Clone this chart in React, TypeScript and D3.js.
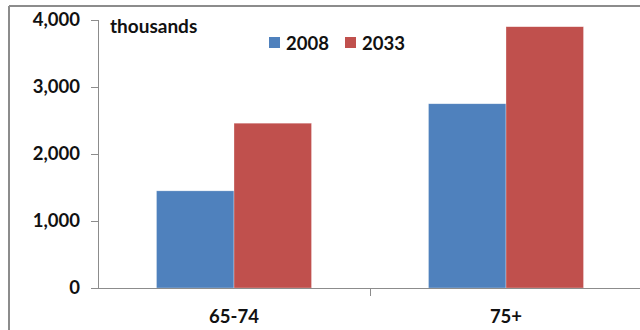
import React from "react";
import * as d3 from "d3";

const categories = ["65-74", "75+"];
const seriesNames = ["2008", "2033"];
const values2008 = [1450, 2750];
const values2033 = [2460, 3900];
const yTicks = [0, 1000, 2000, 3000, 4000];
const colors = ["#4F81BD", "#C0504D"];

const W = 640;
const H = 330;
const FONT = "Lato, 'Open Sans', sans-serif";

export default function App() {
  const x = d3.scaleBand<string>().domain(categories).range([98, 642]).paddingInner(0).paddingOuter(0);
  const y = d3.scaleLinear().domain([0, 4000]).range([288, 20]);
  const groupFrac = 0.57;
  const inner = d3
    .scaleBand<string>()
    .domain(seriesNames)
    .range([0, x.bandwidth() * groupFrac]);
  const offset = (x.bandwidth() * (1 - groupFrac)) / 2;
  const series = [values2008, values2033];
  const fmt = d3.format(",");

  return (
    <svg
      width={W}
      height={H}
      style={{ position: "absolute", left: 0, top: 0 }}
      fontFamily={FONT}
    >
      <rect x={0} y={0} width={W} height={H} fill="#fff" />
      {/* outer frame */}
      <line x1={9} y1={6} x2={W} y2={6} stroke="#8c8c8c" strokeWidth={2} />
      <line x1={9} y1={6} x2={9} y2={H} stroke="#8c8c8c" strokeWidth={2} />

      {/* bars */}
      {series.map((vals, si) =>
        categories.map((c, ci) => (
          <rect
            key={`${si}-${ci}`}
            x={(x(c) as number) + offset + (inner(seriesNames[si]) as number)}
            y={y(vals[ci])}
            width={inner.bandwidth()}
            height={y(0) - y(vals[ci])}
            fill={colors[si]}
            stroke="rgba(255,255,255,0.5)"
            strokeWidth={0.6}
          />
        ))
      )}

      {/* y axis */}
      <line x1={98.5} y1={y(4000)} x2={98.5} y2={y(0)} stroke="#8c8c8c" strokeWidth={1} />
      {yTicks.map((t) => (
        <g key={t}>
          <line x1={91} x2={98.5} y1={Math.round(y(t)) + 0.5} y2={Math.round(y(t)) + 0.5} stroke="#8c8c8c" />
          <text
            x={80}
            y={y(t)}
            dy="0.35em"
            textAnchor="end"
            fontSize={18.5}
            fontWeight={700}
            fill="#111"
          >
            {fmt(t)}
          </text>
        </g>
      ))}

      {/* x axis */}
      <line x1={91} x2={W} y1={288.5} y2={288.5} stroke="#8c8c8c" strokeWidth={1} />
      {categories.map((c, i) =>
        i === 0 ? null : (
          <line key={c} x1={(x(c) as number) + 0.5} x2={(x(c) as number) + 0.5} y1={288} y2={296} stroke="#8c8c8c" />
        )
      )}
      {categories.map((c) => (
        <text
          key={c}
          x={(x(c) as number) + x.bandwidth() / 2}
          y={323}
          textAnchor="middle"
          fontSize={18.5}
          fontWeight={700}
          fill="#111"
        >
          {c}
        </text>
      ))}

      {/* unit label */}
      <text x={110} y={33} fontSize={19} fontWeight={700} fill="#111">
        thousands
      </text>

      {/* legend */}
      {seriesNames.map((s, i) => {
        const lx = 269 + i * 76;
        return (
          <g key={s}>
            <rect x={lx} y={37} width={11} height={11} fill={colors[i]} />
            <text x={lx + 17} y={49.5} fontSize={18.5} fontWeight={700} fill="#111">
              {s}
            </text>
          </g>
        );
      })}
    </svg>
  );
}
